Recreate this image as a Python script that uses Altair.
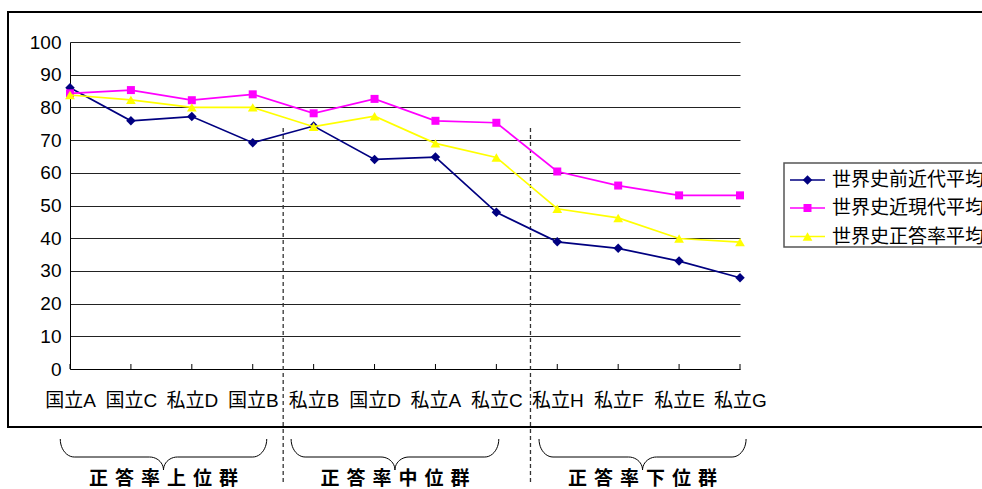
import json

import altair as alt
import numpy as np
import pandas as pd

# ---- data -------------------------------------------------------------
schools = ["国立A", "国立C", "私立D", "国立B", "私立B", "国立D",
           "私立A", "私立C", "私立H", "私立F", "私立E", "私立G"]
premodern = [86.0, 75.9, 77.2, 69.2, 74.3, 64.1, 64.8, 47.9, 38.9, 36.9, 33.0, 27.9]
modern = [84.3, 85.3, 82.2, 84.0, 78.2, 82.6, 75.9, 75.3, 60.4, 56.1, 53.1, 53.1]
overall = [83.8, 82.3, 80.0, 80.0, 74.1, 77.3, 69.0, 64.7, 49.0, 46.2, 39.9, 38.8]
series_names = ["世界史前近代平均", "世界史近現代平均", "世界史正答率平均"]
group_names = ["正答率上位群", "正答率中位群", "正答率下位群"]

# ---- layout (category units / pixels) ------------------------------------
brace_spans = [(-0.16, 3.23), (3.63, 7.04), (7.70, 11.10)]
dividers = [3.5, 7.56]
legend_rows_y = [138.0, 166.0, 194.5]

# ---- styling ----------------------------------------------------------
colors = ["#000080", "#FF00FF", "#FFFF00"]
shapes = ["diamond", "square", "triangle-up"]
sizes = [90, 64, 95]
LATIN = "Liberation Sans, Arial, Noto Sans CJK JP"
CJK = "Noto Sans CJK JP, Liberation Sans"

W, H = 670, 327
px_x = W / (len(schools) - 1)   # pixels per category step
px_y = H / 100.0                 # pixels per score point

xs = alt.Scale(domain=[0, len(schools) - 1], nice=False, zero=False)
ys = alt.Scale(domain=[0, 100], nice=False)

labels_js = json.dumps(schools, ensure_ascii=False)

XAX = alt.Axis(
    title=None, values=list(range(len(schools))),
    labelExpr=f"{labels_js}[datum.value]",
    ticks=False, grid=False, domainColor="#000", domainWidth=1,
    labelFont=LATIN, labelFontSize=19, labelColor="#000",
    labelPadding=22, labelFlush=False, labelOverlap=False)
YAX = alt.Axis(
    title=None, values=list(range(0, 101, 10)), ticks=False,
    grid=True, gridColor="#222", gridWidth=1,
    domainColor="#000", domainWidth=1,
    labelFont=LATIN, labelFontSize=19, labelColor="#000",
    labelPadding=9, labelOverlap=False)


def X(field):
    return alt.X(field, scale=xs, axis=XAX)


def Y(field):
    return alt.Y(field, scale=ys, axis=YAX)


rows = []
for name, vals in zip(series_names, [premodern, modern, overall]):
    for i, (s, v) in enumerate(zip(schools, vals)):
        rows.append({"series": name, "school": s, "idx": i, "value": v})
df = pd.DataFrame(rows)

one_row = pd.DataFrame({"a": [0]})

# outer chart-area frame
frame = alt.Chart(one_row).mark_rect(
    fill=None, stroke="#000", strokeWidth=2
).encode(x=alt.value(-62), x2=alt.value(940), y=alt.value(-30), y2=alt.value(385))

# axes + grid carried by an invisible layer
base = alt.Chart(df).mark_point(opacity=0).encode(x=X("idx:Q"), y=Y("value:Q"))

# inward category ticks on the x axis
ticks = alt.Chart(pd.DataFrame({"idx": list(range(len(schools)))})).mark_rule(
    color="#000", strokeWidth=1
).encode(x=X("idx:Q"), y=alt.value(H), y2=alt.value(H - 5))

# group dividers (dashed)
div = alt.Chart(pd.DataFrame({"pos": dividers})).mark_rule(
    color="#333", strokeWidth=1.3, strokeDash=[4, 3]
).encode(x=X("pos:Q"), y=alt.value(86), y2=alt.value(443))


# curly braces under each group, built in pixel space then mapped to data units
def brace(x0, x1, top=397, mid=415, tip=428, rx=14, rx2=14):
    t1 = np.linspace(np.pi, np.pi / 2, 12)
    t2 = np.linspace(-np.pi / 2, 0, 12)
    c = (x0 + x1) / 2
    ry, ry2 = mid - top, tip - mid
    left = list(zip(x0 + rx + rx * np.cos(t1), top + ry * np.sin(t1)))
    left += list(zip(c - rx2 + rx2 * np.cos(t2), tip + ry2 * np.sin(t2)))
    right = [(2 * c - px, py) for px, py in reversed(left)]
    return left + right[1:]


brace_rows = []
char_rows = []
ADV = 26.0  # character advance of the group captions, px
for g, (name, (a, b)) in enumerate(zip(group_names, brace_spans)):
    x0, x1 = a * px_x, b * px_x
    for k, (px, py) in enumerate(brace(x0, x1)):
        brace_rows.append({"g": g, "k": k, "bx": px / px_x, "by": (H - py) / px_y})
    c = (a + b) / 2
    n = len(name)
    for j, ch in enumerate(name):
        char_rows.append({"ch": ch, "cx": c + (j - (n - 1) / 2) * ADV / px_x})

braces = alt.Chart(pd.DataFrame(brace_rows)).mark_line(
    color="#000", strokeWidth=1
).encode(x=X("bx:Q"), y=Y("by:Q"), detail="g:N", order="k:Q")

group_text = alt.Chart(pd.DataFrame(char_rows)).mark_text(
    font=CJK, fontSize=19, fontWeight="bold", baseline="top", color="#000"
).encode(x=X("cx:Q"), y=alt.value(428), text="ch:N")

# series: each line with its markers, drawn in order
series_layers = []
for name, col, shp, sz in zip(series_names, colors, shapes, sizes):
    sub = alt.Chart(df[df.series == name])
    series_layers.append(sub.mark_line(color=col, strokeWidth=1.7).encode(
        x=X("idx:Q"), y=Y("value:Q")))
    series_layers.append(sub.mark_point(
        color=col, fill=col, filled=True, opacity=1, shape=shp, size=sz, strokeWidth=1
    ).encode(x=X("idx:Q"), y=Y("value:Q")))

# legend box
leg_box = alt.Chart(one_row).mark_rect(
    fill="#fff", stroke="#555", strokeWidth=1.5
).encode(x=alt.value(714), x2=alt.value(960), y=alt.value(121), y2=alt.value(205))

leg_df = pd.DataFrame({"series": series_names})
leg_layers = [leg_box]
for i, (col, shp, sz, ly) in enumerate(zip(colors, shapes, sizes, legend_rows_y)):
    one = alt.Chart(leg_df.iloc[[i]])
    leg_layers.append(one.mark_rule(color=col, strokeWidth=1.7).encode(
        x=alt.value(720), x2=alt.value(755), y=alt.value(ly)))
    leg_layers.append(one.mark_point(
        color=col, fill=col, filled=True, opacity=1, shape=shp, size=sz
    ).encode(x=alt.value(737.5), y=alt.value(ly)))
    leg_layers.append(one.mark_text(
        font=CJK, fontSize=19, align="left", baseline="middle", color="#000"
    ).encode(x=alt.value(762), y=alt.value(ly), text="series:N"))

chart = alt.layer(
    frame, base, ticks, div, braces, group_text, *series_layers, *leg_layers
).properties(
    width=W, height=H,
    autosize=alt.AutoSizeParams(type="none"),
    padding={"left": 70, "top": 42, "right": 242, "bottom": 120},
    background="#ffffff",
).configure_view(stroke=None)

chart.save("out.html", embed_options={"renderer": "svg", "actions": False})
